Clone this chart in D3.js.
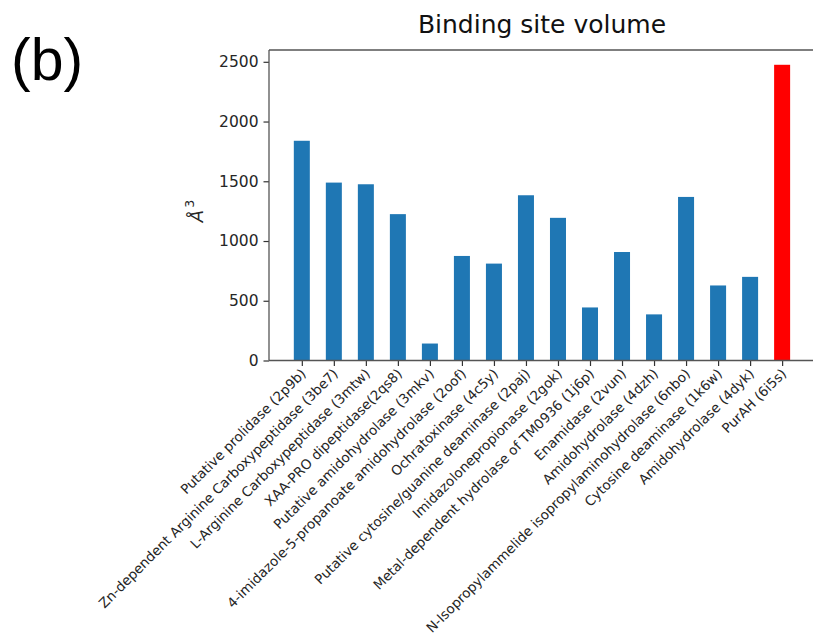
<!DOCTYPE html>
<html>
<head>
<meta charset="utf-8">
<script src="https://cdn.jsdelivr.net/npm/d3@7"></script>
<style>
  html, body { margin: 0; padding: 0; background: #fff; }
  svg { display: block; }
  text { font-family: "DejaVu Sans", sans-serif; fill: #262626; }
</style>
</head>
<body>
<svg id="chart" width="813" height="642"></svg>
<script>
// Protein names (PDB id) along the x axis
const proteins = [
  "Putative prolidase (2p9b)",
  "Zn-dependent Arginine Carboxypeptidase (3be7)",
  "L-Arginine Carboxypeptidase (3mtw)",
  "XAA-PRO dipeptidase(2qs8)",
  "Putative amidohydrolase (3mkv)",
  "4-imidazole-5-propanoate amidohydrolase (2oof)",
  "Ochratoxinase (4c5y)",
  "Putative cytosine/guanine deaminase (2paj)",
  "Imidazolonepropionase (2gok)",
  "Metal-dependent hydrolase of TM0936 (1j6p)",
  "Enamidase (2vun)",
  "Amidohydrolase (4dzh)",
  "N-Isopropylammelide isopropylaminohydrolase (6nbo)",
  "Cytosine deaminase (1k6w)",
  "Amidohydrolase (4dyk)",
  "PurAH (6i5s)"
];
// Binding site volume, Å^3
const volumes = [1839, 1489, 1475, 1225, 142, 875, 811, 1383, 1194, 444, 908, 386, 1369, 628, 700, 2475];
const yTicks = [0, 500, 1000, 1500, 2000, 2500];
const highlighted = "PurAH (6i5s)";

const svg = d3.select("#chart");
const plotLeft = 269, plotTop = 50, plotBottom = 360.5;
const barWidth = 0.5;
const n = proteins.length;

// matplotlib-like limits: 5% margins around the bar extent
const span = (n - 1) + barWidth;
const xMin = -barWidth / 2 - 0.05 * span;
const xMax = (n - 1) + barWidth / 2 + 0.05 * span;
const unit = 32.02;
const plotRight = plotLeft + (xMax - xMin) * unit;

const x = d3.scaleLinear().domain([xMin, xMax]).range([plotLeft, plotRight]);
const yMax = d3.max(volumes) * 1.05;
const y = d3.scaleLinear().domain([0, yMax]).range([plotBottom, plotTop]);

// bars
svg.append("g").selectAll("rect")
  .data(volumes)
  .join("rect")
  .attr("x", (d, i) => x(i - barWidth / 2))
  .attr("width", (d, i) => x(i + barWidth / 2) - x(i - barWidth / 2))
  .attr("y", d => y(d))
  .attr("height", d => y(0) - y(d))
  .attr("fill", (d, i) => proteins[i] === highlighted ? "#ff0000" : "#1f77b4");

// y axis
const yAxis = d3.axisLeft(y).tickValues(yTicks).tickFormat(d3.format("d")).tickSize(5.5).tickPadding(5);
const gy = svg.append("g").attr("transform", `translate(${plotLeft},0)`).call(yAxis);
gy.select(".domain").remove();
gy.selectAll("line").attr("stroke", "#333").attr("stroke-width", 1.2);
gy.selectAll("text").attr("font-size", 15.5).style("fill", "#262626");

// x axis ticks and rotated labels
const xAxis = d3.axisBottom(x).tickValues(d3.range(n)).tickSize(5.5).tickFormat("");
const gx = svg.append("g").attr("transform", `translate(0,${plotBottom})`).call(xAxis);
gx.select(".domain").remove();
gx.selectAll("line").attr("stroke", "#333").attr("stroke-width", 1.2);

svg.append("g").selectAll("text")
  .data(proteins)
  .join("text")
  .attr("transform", (d, i) => `translate(${x(i) + 5},${plotBottom + 14}) rotate(-45)`)
  .attr("text-anchor", "end")
  .attr("font-size", 13.5)
  .text(d => d);

// spines
const frame = svg.append("g").attr("fill", "none").attr("stroke", "#555").attr("stroke-width", 1.3);
frame.append("line").attr("x1", plotLeft).attr("x2", plotLeft).attr("y1", plotTop).attr("y2", plotBottom);
frame.append("line").attr("x1", plotLeft).attr("x2", plotRight).attr("y1", plotTop).attr("y2", plotTop);
frame.append("line").attr("x1", plotLeft).attr("x2", plotRight).attr("y1", plotBottom).attr("y2", plotBottom);
frame.append("line").attr("x1", plotRight).attr("x2", plotRight).attr("y1", plotTop).attr("y2", plotBottom);

// title, centred over the axes
svg.append("text")
  .attr("x", (plotLeft + plotRight) / 2).attr("y", 33)
  .attr("text-anchor", "middle")
  .attr("font-size", 25)
  .style("fill", "#111")
  .text("Binding site volume");

// y label: Å^3
const yl = svg.append("text")
  .attr("transform", `translate(203,211) rotate(-90)`)
  .attr("text-anchor", "middle")
  .attr("font-size", 18);
yl.append("tspan").attr("font-style", "italic").text("Å");
yl.append("tspan").attr("font-size", 12.5).attr("dy", -9).attr("dx", 2).text("3");

// panel letter
svg.append("text")
  .attr("x", 11).attr("y", 80)
  .style("font-family", "'Liberation Sans', Arial, sans-serif")
  .attr("font-size", 59)
  .style("fill", "#000")
  .text("(b)");
</script>
</body>
</html>
